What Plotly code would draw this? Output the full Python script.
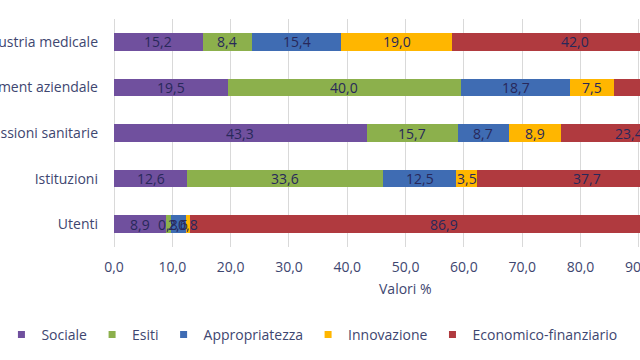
import plotly.graph_objects as go

categories = ["Industria medicale", "Management aziendale", "Professioni sanitarie", "Istituzioni", "Utenti"]
series_names = ["Sociale", "Esiti", "Appropriatezza", "Innovazione", "Economico-finanziario"]
sociale = [15.2, 19.5, 43.3, 12.6, 8.9]
esiti = [8.4, 40.0, 15.7, 33.6, 0.8]
appropriatezza = [15.4, 18.7, 8.7, 12.5, 2.6]
innovazione = [19.0, 7.5, 8.9, 3.5, 0.8]
economico = [42.0, 14.3, 23.4, 37.7, 86.9]
tick_vals = [0, 10, 20, 30, 40, 50, 60, 70, 80, 90, 100]
x_title = "Valori %"

colors = ["#70509E", "#8CB04C", "#3F6CB3", "#FFB600", "#B03A3F"]
values = [sociale, esiti, appropriatezza, innovazione, economico]

FONT = "Open Sans"
TICK_COLOR = "#3E4670"
LABEL_COLOR = "#28285A"
X_MAX = 90.2

fig = go.Figure()
annotations = []
cum = [0.0] * len(categories)
for name, vals, col in zip(series_names, values, colors):
    fig.add_trace(go.Bar(
        name=name, x=vals, y=categories, orientation="h",
        marker=dict(color=col, line=dict(width=0)),
        textposition="none", showlegend=False,
        hoverinfo="x+name",
    ))
    # legend entry with small square symbol
    fig.add_trace(go.Scatter(
        name=name, x=[None], y=[None], mode="markers",
        marker=dict(symbol="square", size=7, color=col),
        showlegend=True, hoverinfo="skip",
    ))
    for i, v in enumerate(vals):
        center = cum[i] + v / 2
        cum[i] += v
        if center <= X_MAX:
            annotations.append(dict(
                text=f"{v:.1f}".replace(".", ","), x=center, y=categories[i],
                xref="x", yref="y", showarrow=False,
                xanchor="center", yanchor="middle",
                font=dict(family=FONT, size=14, color=LABEL_COLOR),
            ))

annotations.append(dict(
    text=x_title, xref="x", yref="paper", x=50, y=-0.181,
    showarrow=False, xanchor="center", yanchor="middle",
    font=dict(family=FONT, size=14, color=TICK_COLOR),
))

fig.update_layout(
    template="none",
    width=640, height=360,
    barmode="stack", bargap=0.61,
    separators=",.",
    margin=dict(l=114, r=0, t=19, b=113, autoexpand=False),
    paper_bgcolor="white", plot_bgcolor="white",
    font=dict(family=FONT, size=14, color=TICK_COLOR),
    xaxis=dict(
        range=[0, X_MAX], tickvals=tick_vals, tickformat=".1f",
        showgrid=True, gridcolor="#D9D9D9", gridwidth=1,
        zeroline=True, zerolinecolor="#D9D9D9", zerolinewidth=1,
        showline=False, ticks="", automargin=False,
        tickfont=dict(family=FONT, size=14, color=TICK_COLOR),
        ticklabelstandoff=10, ticklabeloverflow="allow",
    ),
    yaxis=dict(
        categoryorder="array", categoryarray=categories,
        autorange="reversed", showgrid=False, zeroline=False,
        showline=False, ticks="", automargin=False,
        tickfont=dict(family=FONT, size=14, color=TICK_COLOR),
        ticklabelstandoff=15, ticklabeloverflow="allow",
    ),
    showlegend=True,
    legend=dict(
        orientation="h", xref="paper", yref="paper",
        x=-0.214, xanchor="left", y=-0.385, yanchor="middle",
        font=dict(family=FONT, size=14, color=TICK_COLOR),
        itemwidth=30, traceorder="normal",
        bgcolor="rgba(0,0,0,0)",
    ),
    annotations=annotations,
)

fig.write_html("out.html", config={"displayModeBar": False},
               post_script="document.body.style.margin='0';")
